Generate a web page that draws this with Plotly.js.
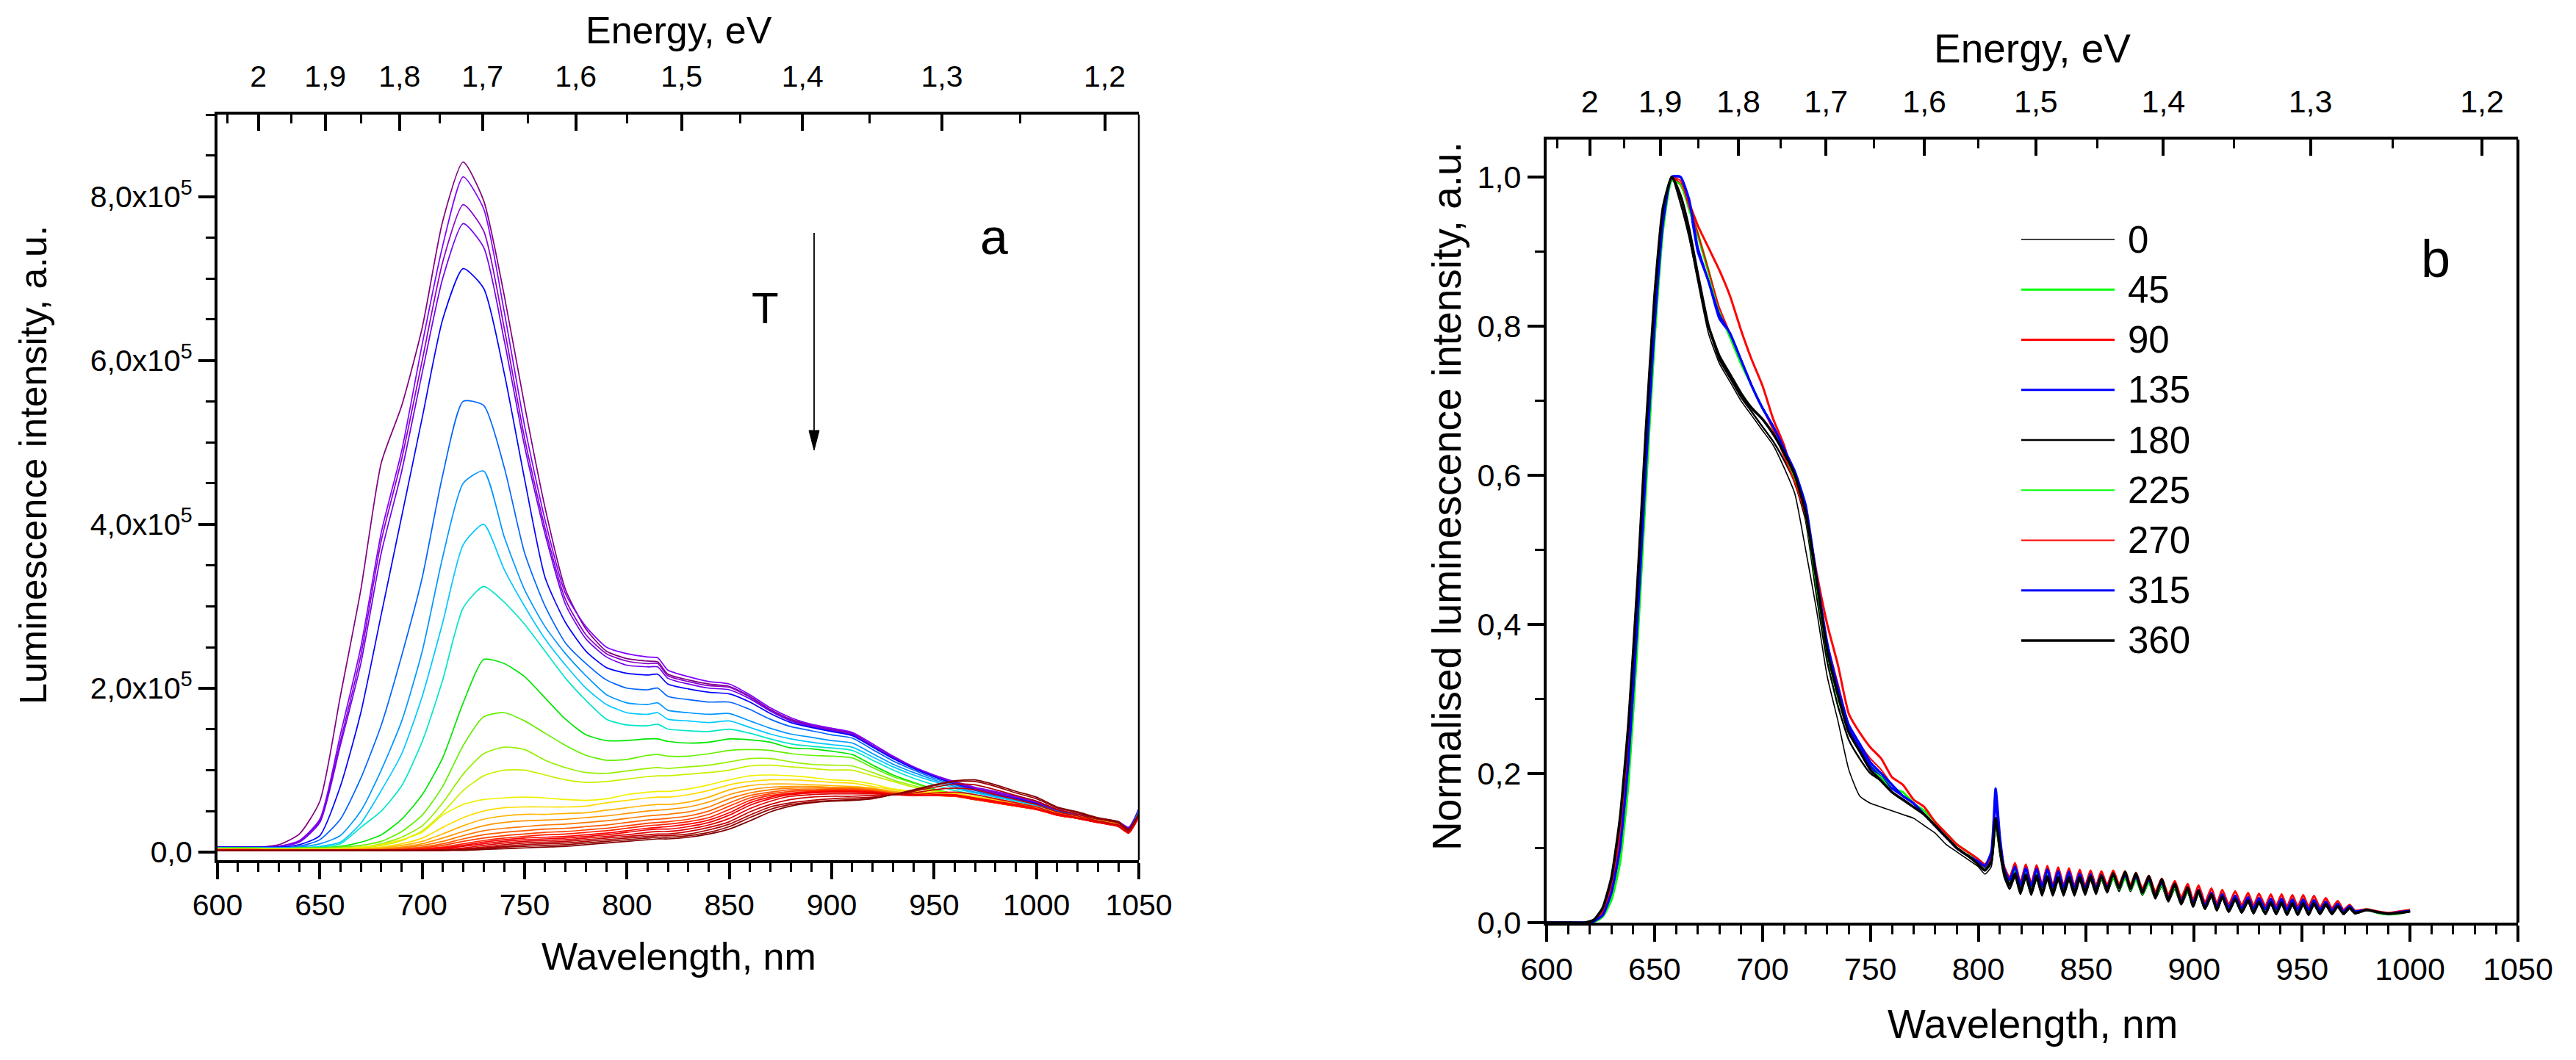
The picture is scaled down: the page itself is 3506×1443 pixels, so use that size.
<!DOCTYPE html>
<html><head><meta charset="utf-8">
<script src="https://cdn.plot.ly/plotly-3.0.1.min.js"></script>
<style>html,body{margin:0;padding:0;background:#fff}#chart{width:3506px;height:1443px}</style>
</head><body><div id="chart"></div>
<script>
const FONT = 'Liberation Sans, Arial, Helvetica, sans-serif';
const W = 3506, H = 1443;

// ---------------- Panel a : luminescence spectra (values in 10^5 a.u.) ----------------
const wavelengthA = [600,620,630,640,650,660,670,680,690,700,710,720,730,740,750,760,770,780,790,800,810,815,820,830,840,850,860,870,880,890,900,910,920,930,940,950,960,970,980,990,1000,1010,1020,1030,1040,1045,1050];
const c1 = [.06,.06,.09,.22,.62,1.9,3.2,4.75,5.45,6.4,7.7,8.42,7.95,6.8,5.45,4.2,3.2,2.72,2.45,2.36,2.33,2.32,2.17,2.1,2.05,2.02,1.9,1.74,1.62,1.55,1.5,1.45,1.3,1.15,1.02,.92,.84,.78,.73,.68,.62,.52,.46,.41,.37,.3,.52];
const c2 = [.06,.06,.07,.14,.4,1.43,2.5,3.9,4.9,6.2,7.4,8.24,7.85,6.6,5.2,4.05,3.15,2.75,2.5,2.42,2.38,2.37,2.22,2.14,2.08,2.05,1.92,1.76,1.64,1.56,1.51,1.46,1.32,1.17,1.04,.94,.86,.79,.74,.68,.62,.52,.46,.41,.37,.3,.53];
const c3 = [.06,.06,.07,.13,.38,1.35,2.4,3.8,4.8,6.0,7.2,7.9,7.58,6.4,5.05,3.95,3.08,2.65,2.42,2.33,2.3,2.3,2.15,2.08,2.03,2.01,1.89,1.73,1.61,1.54,1.49,1.44,1.3,1.16,1.03,.93,.85,.78,.72,.67,.61,.51,.45,.4,.36,.29,.51];
const c4 = [.06,.06,.07,.12,.36,1.3,2.3,3.65,4.65,5.85,7.0,7.67,7.38,6.25,4.95,3.88,3.02,2.6,2.38,2.28,2.26,2.26,2.12,2.05,2.0,1.98,1.87,1.72,1.6,1.53,1.48,1.43,1.29,1.15,1.03,.93,.84,.77,.71,.66,.6,.5,.44,.39,.35,.28,.5];
const c5 = [.06,.06,.06,.09,.2,.8,1.7,2.9,4.1,5.3,6.5,7.12,6.88,5.85,4.55,3.35,2.8,2.45,2.25,2.18,2.16,2.17,2.05,1.99,1.95,1.93,1.83,1.69,1.58,1.52,1.47,1.42,1.28,1.14,1.02,.92,.83,.76,.7,.65,.59,.5,.44,.39,.36,.28,.52];
const c6 = [.05,.05,.05,.07,.15,.4,.9,1.55,2.4,3.35,4.6,5.5,5.45,4.7,3.65,3.0,2.55,2.3,2.1,2.0,1.98,2.0,1.9,1.86,1.83,1.83,1.74,1.62,1.53,1.48,1.43,1.39,1.25,1.11,1.0,.9,.82,.75,.69,.64,.58,.5,.44,.39,.35,.27,.51];
const c7 = [.05,.05,.05,.06,.1,.2,.5,1.0,1.6,2.45,3.6,4.5,4.65,3.85,3.2,2.75,2.42,2.15,1.92,1.82,1.8,1.82,1.73,1.7,1.68,1.69,1.6,1.51,1.44,1.4,1.36,1.33,1.2,1.07,.97,.88,.8,.73,.68,.63,.57,.49,.44,.39,.35,.27,.5];
const c8 = [.05,.05,.05,.05,.07,.12,.35,.75,1.2,1.9,2.8,3.75,4.0,3.45,3.0,2.6,2.28,2.0,1.8,1.7,1.68,1.7,1.62,1.6,1.58,1.6,1.52,1.44,1.38,1.34,1.31,1.28,1.16,1.04,.94,.86,.78,.72,.67,.62,.56,.48,.43,.38,.34,.26,.49];
const c9 = [.05,.05,.04,.05,.06,.1,.3,.5,.81,1.35,2.1,2.98,3.24,3.05,2.78,2.45,2.12,1.85,1.62,1.55,1.54,1.56,1.5,1.48,1.47,1.5,1.45,1.38,1.32,1.29,1.27,1.24,1.12,1.0,.9,.82,.75,.7,.65,.6,.55,.47,.43,.38,.34,.26,.48];
const c10 = [.05,.05,.04,.05,.05,.07,.12,.21,.4,.7,1.15,1.82,2.35,2.3,2.14,1.88,1.62,1.43,1.36,1.36,1.38,1.38,1.35,1.33,1.34,1.38,1.37,1.34,1.27,1.26,1.23,1.19,1.06,.94,.85,.77,.71,.66,.62,.57,.54,.47,.43,.38,.34,.26,.48];
const c11 = [.04,.04,.04,.05,.05,.06,.08,.13,.25,.45,.8,1.3,1.65,1.7,1.6,1.45,1.3,1.18,1.12,1.13,1.18,1.19,1.17,1.17,1.2,1.24,1.25,1.24,1.2,1.18,1.17,1.15,1.03,.92,.84,.76,.71,.66,.62,.57,.54,.47,.43,.38,.34,.26,.47];
const c12 = [.04,.04,.04,.04,.04,.05,.06,.1,.18,.32,.6,.95,1.2,1.28,1.25,1.12,1.03,.97,.96,.99,1.02,1.03,1.02,1.04,1.06,1.1,1.14,1.14,1.1,1.07,1.06,1.05,.97,.88,.81,.75,.7,.65,.61,.57,.53,.47,.42,.37,.34,.26,.47];
const c13 = [.04,.04,.04,.04,.04,.04,.05,.08,.14,.26,.48,.75,.93,1.0,1.0,.94,.88,.85,.86,.89,.92,.93,.93,.95,.97,1.0,1.05,1.06,1.04,1.02,1.0,1.0,.93,.86,.79,.74,.7,.65,.61,.57,.53,.46,.42,.37,.33,.25,.46];
const c14 = [.04,.03,.03,.03,.03,.04,.06,.09,.15,.24,.45,.58,.64,.66,.67,.66,.64,.63,.65,.70,.73,.74,.74,.77,.82,.88,.93,.94,.93,.91,.88,.87,.83,.77,.74,.73,.72,.68,.64,.60,.55,.48,.44,.39,.35,.27,.47];
const c15 = [.04,.03,.03,.03,.03,.03,.04,.06,.10,.17,.30,.42,.50,.54,.55,.55,.55,.56,.60,.63,.66,.67,.67,.70,.75,.82,.86,.88,.88,.87,.85,.84,.80,.76,.73,.72,.71,.67,.63,.59,.55,.48,.43,.38,.34,.26,.46];
const c16 = [.03,.03,.03,.03,.03,.03,.04,.05,.08,.13,.22,.32,.40,.44,.46,.46,.47,.48,.51,.54,.57,.58,.58,.61,.67,.76,.81,.83,.83,.82,.81,.80,.78,.74,.72,.71,.70,.66,.62,.58,.54,.47,.43,.38,.33,.26,.46];
const c17 = [.03,.03,.03,.03,.02,.03,.03,.04,.06,.10,.17,.25,.32,.36,.38,.39,.40,.42,.44,.47,.50,.51,.52,.55,.61,.70,.76,.79,.80,.80,.79,.79,.77,.73,.71,.70,.69,.65,.61,.57,.53,.46,.42,.37,.33,.25,.45];
const c18 = [.03,.03,.02,.02,.02,.02,.03,.03,.05,.08,.13,.20,.26,.29,.31,.33,.34,.36,.38,.41,.44,.45,.46,.49,.55,.65,.72,.76,.78,.78,.78,.78,.76,.72,.70,.69,.68,.64,.60,.56,.52,.46,.42,.37,.33,.25,.45];
const c19 = [.03,.03,.02,.02,.02,.02,.02,.03,.04,.06,.10,.16,.21,.24,.26,.28,.29,.31,.33,.36,.39,.40,.41,.44,.50,.60,.69,.73,.76,.76,.77,.77,.75,.72,.70,.69,.68,.64,.60,.56,.52,.45,.41,.36,.32,.24,.44];
const c20 = [.03,.02,.02,.02,.02,.02,.02,.02,.03,.05,.08,.13,.17,.20,.22,.24,.25,.27,.29,.32,.35,.36,.37,.40,.46,.56,.66,.71,.74,.75,.76,.76,.74,.71,.69,.69,.68,.64,.60,.56,.52,.45,.41,.36,.32,.24,.44];
const c21 = [.03,.02,.02,.02,.02,.02,.02,.02,.03,.04,.06,.10,.14,.17,.19,.21,.22,.24,.26,.29,.32,.33,.34,.37,.42,.52,.63,.69,.72,.74,.75,.75,.74,.71,.69,.69,.68,.64,.60,.56,.52,.45,.41,.36,.32,.24,.44];
const c22 = [.02,.02,.02,.02,.02,.02,.02,.02,.02,.03,.05,.08,.12,.15,.17,.18,.19,.21,.23,.26,.29,.30,.31,.34,.39,.48,.60,.67,.71,.73,.74,.74,.73,.70,.69,.69,.69,.65,.61,.57,.52,.45,.41,.36,.31,.23,.43];
const c23 = [.02,.02,.02,.02,.02,.02,.02,.02,.02,.03,.04,.07,.10,.13,.15,.16,.17,.19,.21,.24,.27,.28,.28,.31,.36,.45,.57,.65,.70,.72,.73,.73,.72,.70,.69,.70,.70,.66,.62,.58,.53,.46,.41,.36,.31,.23,.43];
const c24 = [.02,.02,.02,.02,.02,.02,.02,.02,.02,.02,.03,.05,.08,.11,.13,.14,.15,.17,.19,.21,.24,.25,.25,.28,.33,.41,.53,.62,.68,.70,.71,.71,.71,.70,.70,.72,.73,.70,.65,.60,.55,.47,.42,.37,.32,.24,.44];
const c25 = [.02,.02,.02,.02,.02,.02,.02,.02,.02,.02,.03,.04,.06,.09,.11,.12,.13,.15,.17,.19,.21,.22,.22,.25,.30,.37,.49,.58,.64,.67,.68,.68,.69,.70,.72,.76,.78,.76,.70,.64,.58,.49,.44,.38,.33,.25,.45];
const c26 = [.02,.02,.02,.02,.02,.02,.02,.02,.02,.02,.02,.03,.05,.07,.09,.10,.11,.13,.15,.17,.19,.20,.20,.22,.27,.34,.45,.55,.60,.63,.65,.66,.67,.70,.74,.79,.83,.82,.76,.69,.62,.52,.46,.40,.35,.26,.46];
const c27 = [.02,.02,.02,.02,.02,.02,.02,.02,.02,.02,.02,.03,.04,.06,.07,.08,.09,.11,.13,.15,.17,.18,.18,.20,.24,.31,.42,.52,.58,.61,.63,.64,.66,.70,.75,.81,.86,.86,.80,.72,.65,.54,.48,.41,.36,.27,.47];
const c28 = [.02,.02,.02,.02,.02,.02,.02,.02,.02,.02,.02,.02,.03,.04,.05,.06,.07,.09,.11,.13,.15,.16,.16,.18,.22,.28,.38,.49,.56,.60,.62,.63,.65,.70,.76,.82,.87,.88,.82,.74,.67,.55,.49,.42,.37,.28,.48];
const curvesA = [c1,c2,c3,c4,c5,c6,c7,c8,c9,c10,c11,c12,c13,c14,c15,c16,c17,c18,c19,c20,c21,c22,c23,c24,c25,c26,c27,c28];
const colorsA = ['#800080','#8000ff','#8a00c8','#7000f0','#0000ff','#0064ff','#0096ff','#00c8ff','#00e6c8','#00e600','#64f000','#96f000','#c8f000','#f0f000','#ffdc00','#ffb400','#ff9600','#ff7800','#ff5a00','#ff3c00','#ff1e00','#ff0000','#f00000','#e00000','#c80000','#b00000','#980000','#800000'];
const yTickValsA = [0,2,4,6,8];
const yTickTextA = ['0,0','2,0x10<sup>5</sup>','4,0x10<sup>5</sup>','6,0x10<sup>5</sup>','8,0x10<sup>5</sup>'];

// ---------------- Energy (top) axis ----------------
const energyMajor = [2,1.9,1.8,1.7,1.6,1.5,1.4,1.3,1.2];
const energyLabels = ['2','1,9','1,8','1,7','1,6','1,5','1,4','1,3','1,2'];
const energyMinor = [2.05,1.95,1.85,1.75,1.65,1.55,1.45,1.35,1.25];
const hc = 1240; // eV*nm

// ---------------- Panel b : normalised spectra ----------------
const wavelengthB = [600,610,618,622,626,630,634,638,642,646,650,654,658,
 662,666,670,675,680,685,690,695,700,705,710,715,720,725,730,735,740,745,750,755,760,765,770,775,780,785,790,795,800,803,806,808,810,812,
 814.5,817,819.5,822,824.5,827,829.5,832,834.5,837,839.5,842,844.5,847,849.5,852,854.5,857,859.7,862.5,865.2,868,870.5,873,876,879,882,885,888,891,894,897,899.5,902,905,908,910.5,913,916,919,922,925,927.5,930,933,935.5,938,940.5,943,945.5,948,950.5,953,955.5,958.3,961,963.8,966.5,969.2,972,974.5,
 980,985,990,995,1000];
const riseBlack = [0,0,0,.004,.02,.06,.14,.27,.45,.66,.84,.96,1.0];
const riseRed   = [0,0,0,.003,.015,.05,.12,.25,.43,.64,.82,.95,1.0];
const riseBlue  = [0,0,0,.002,.01,.04,.1,.22,.4,.61,.8,.94,1.0];
const riseGreen = [0,0,0,.001,.008,.03,.08,.19,.37,.58,.78,.93,.995];
const post0   = [.965,.92,.86,.79,.75,.725,.7,.68,.66,.64,.61,.575,.5,.42,.33,.27,.205,.17,.16,.155,.15,.145,.14,.13,.12,.105,.095,.085,.075,.065,.075,.13,.09,.06];
const post45  = [.99,.96,.925,.875,.82,.785,.75,.72,.69,.665,.635,.6,.55,.46,.37,.31,.26,.235,.21,.2,.18,.175,.16,.15,.135,.12,.105,.095,.08,.075,.085,.14,.1,.07];
const post90  = [.99,.965,.935,.905,.875,.84,.795,.755,.72,.675,.64,.59,.55,.47,.4,.345,.28,.255,.235,.22,.195,.185,.165,.155,.135,.12,.105,.095,.085,.078,.09,.14,.105,.075];
const post135 = [1.0,.965,.9,.86,.81,.79,.755,.72,.69,.665,.635,.6,.555,.46,.37,.31,.26,.235,.21,.195,.18,.17,.16,.145,.13,.115,.1,.09,.08,.074,.09,.16,.11,.07];
const post180 = [.965,.92,.865,.8,.755,.73,.705,.685,.665,.645,.62,.59,.54,.44,.35,.29,.245,.22,.2,.19,.175,.165,.155,.145,.13,.115,.1,.09,.078,.07,.08,.135,.095,.065];
const post225 = [.99,.955,.92,.87,.82,.785,.75,.72,.69,.665,.63,.595,.545,.45,.36,.3,.255,.23,.205,.195,.175,.165,.155,.145,.13,.115,.1,.09,.08,.072,.083,.13,.095,.068];
const post270 = [.995,.96,.925,.875,.825,.79,.755,.72,.69,.66,.625,.59,.545,.46,.375,.32,.265,.24,.22,.205,.185,.17,.16,.145,.13,.115,.1,.09,.08,.075,.088,.135,.1,.072];
const post315 = [1.0,.97,.905,.86,.815,.79,.755,.72,.69,.665,.635,.605,.56,.465,.375,.315,.265,.24,.215,.2,.185,.17,.16,.145,.13,.115,.1,.09,.082,.076,.095,.18,.115,.072];
const post360 = [.975,.93,.87,.8,.76,.735,.71,.69,.675,.655,.63,.6,.55,.46,.365,.305,.255,.23,.205,.19,.175,.165,.155,.145,.13,.115,.1,.09,.078,.07,.082,.14,.1,.068];
const rippleRed   = [.060,.080,.053,.078,.052,.077,.051,.076,.050,.074,.050,.073,.049,.071,.049,.070,.049,.069,.050,.070,.051,.069,.050,.067,.045,.063,.041,.059,.037,.056,.033,.052,.030,.050,.027,.046,.025,.044,.024,.042,.023,.040,.022,.039,.022,.038,.022,.038,.021,.037,.021,.037,.021,.036,.020,.033,.019,.029,.017,.024,.016];
const rippleGreen = [.054,.070,.046,.068,.045,.067,.044,.066,.043,.064,.043,.063,.042,.061,.042,.060,.042,.059,.043,.060,.044,.060,.043,.058,.038,.054,.034,.050,.030,.046,.026,.042,.023,.040,.021,.037,.019,.035,.018,.033,.017,.031,.016,.030,.016,.029,.016,.029,.015,.028,.015,.028,.015,.028,.015,.026,.015,.023,.014,.020,.014];
const rippleBlue  = [.057,.075,.050,.073,.049,.072,.048,.071,.047,.069,.047,.068,.046,.066,.046,.065,.046,.064,.047,.065,.047,.064,.046,.062,.041,.058,.037,.054,.033,.050,.029,.046,.026,.044,.023,.040,.021,.038,.020,.036,.019,.034,.018,.033,.018,.032,.018,.032,.017,.031,.017,.031,.017,.030,.017,.028,.016,.025,.015,.022,.015];
const rippleBlack = [.045,.062,.038,.060,.037,.059,.036,.058,.036,.057,.036,.057,.036,.057,.037,.058,.038,.059,.040,.061,.042,.062,.042,.060,.037,.055,.032,.050,.028,.046,.024,.042,.021,.040,.018,.035,.016,.033,.014,.030,.013,.028,.012,.026,.011,.025,.011,.025,.010,.024,.010,.024,.010,.024,.011,.023,.011,.021,.011,.019,.012];
const rippleBlack360 = [.050,.066,.042,.064,.041,.063,.040,.062,.040,.061,.040,.061,.040,.061,.041,.062,.042,.063,.044,.066,.046,.068,.045,.066,.040,.062,.035,.058,.030,.052,.026,.047,.022,.043,.019,.038,.017,.035,.015,.032,.014,.030,.013,.028,.012,.027,.012,.027,.011,.026,.011,.026,.011,.026,.012,.025,.012,.022,.012,.020,.013];
const tailRed   = [.018,.015,.013,.015,.017];
const tailGreen = [.018,.013,.011,.012,.016];
const tailBlue  = [.017,.014,.012,.014,.016];
const tailBlack = [.017,.014,.012,.013,.015];

const b0   = [...riseBlack, ...post0,   ...rippleBlack,    ...tailBlack];
const b45  = [...riseGreen, ...post45,  ...rippleGreen,    ...tailGreen];
const b90  = [...riseRed,   ...post90,  ...rippleRed,      ...tailRed];
const b135 = [...riseBlue,  ...post135, ...rippleBlue,     ...tailBlue];
const b180 = [...riseBlack, ...post180, ...rippleBlack,    ...tailBlack];
const b225 = [...riseGreen, ...post225, ...rippleGreen,    ...tailGreen];
const b270 = [...riseRed,   ...post270, ...rippleRed,      ...tailRed];
const b315 = [...riseBlue,  ...post315, ...rippleBlue,     ...tailBlue];
const b360 = [...riseBlack, ...post360, ...rippleBlack360, ...tailBlack];
const curvesB = [b0,b45,b90,b135,b180,b225,b270,b315,b360];
const anglesB = ['0','45','90','135','180','225','270','315','360'];
const colorsB = ['#000000','#00ff00','#ff0000','#0000ff','#000000','#00ff00','#ff0000','#0000ff','#000000'];
const widthsB = [1.6,3,3,3,2.4,2,2,3.2,3.6];
const yTickValsB = [0,0.2,0.4,0.6,0.8,1.0];
const yTickTextB = ['0,0','0,2','0,4','0,6','0,8','1,0'];

// ---------------- traces ----------------
const traces = [];
curvesA.forEach((ys,i)=>traces.push({type:'scatter',mode:'lines',x:wavelengthA,y:ys,xaxis:'x',yaxis:'y',
  line:{color:colorsA[i],width:1.7,shape:'spline',smoothing:0.6},showlegend:false,hoverinfo:'skip'}));
curvesB.forEach((ys,i)=>traces.push({type:'scatter',mode:'lines',x:wavelengthB,y:ys,xaxis:'x2',yaxis:'y2',
  line:{color:colorsB[i],width:widthsB[i],shape:'spline',smoothing:0.5},showlegend:false,hoverinfo:'skip'}));
traces.push({type:'scatter',mode:'lines',x:[600,1050],y:[null,null],xaxis:'x3',yaxis:'y',showlegend:false,hoverinfo:'skip'});
traces.push({type:'scatter',mode:'lines',x:[600,1050],y:[null,null],xaxis:'x4',yaxis:'y2',showlegend:false,hoverinfo:'skip'});

// ---------------- layout helpers ----------------
const px = v => v / W, py = v => 1 - v / H;
const tickFont = s => ({family:FONT,size:s,color:'#000'});
const base = {showline:true,linecolor:'#000',linewidth:4,ticks:'outside',ticklen:22,tickwidth:4,tickcolor:'#000',
  showgrid:false,zeroline:false,fixedrange:true};
const energyVals = energyMajor.map(e=>hc/e);
const energyMinorVals = energyMinor.map(e=>hc/e);

const domXA = [px(296),px(1550)], domYA = [py(1171),py(156)];
const domXB = [px(2105),px(3427)], domYB = [py(1256),py(190)];

const layout = {
  width:W,height:H,margin:{l:0,r:0,t:0,b:0},paper_bgcolor:'#fff',plot_bgcolor:'rgba(0,0,0,0)',showlegend:false,
  font:{family:FONT,color:'#000'},
  xaxis:{...base,domain:domXA,anchor:'y',range:[600,1050],tickmode:'linear',tick0:600,dtick:50,tickfont:tickFont(41),
    minor:{tickmode:'linear',tick0:600,dtick:10,ticks:'outside',ticklen:12,tickwidth:3,tickcolor:'#000'}},
  yaxis:{...base,domain:domYA,anchor:'x',range:[-0.1,9.0],tickmode:'array',tickvals:yTickValsA,ticktext:yTickTextA,tickfont:tickFont(41),
    minor:{tickmode:'linear',tick0:0,dtick:0.5,ticks:'outside',ticklen:12,tickwidth:3,tickcolor:'#000'}},
  xaxis3:{...base,overlaying:'x',side:'top',anchor:'y',range:[600,1050],ticks:'inside',tickmode:'array',tickvals:energyVals,ticktext:energyLabels,tickfont:tickFont(41),ticklabelstandoff:18,
    minor:{tickmode:'array',tickvals:energyMinorVals,ticks:'inside',ticklen:12,tickwidth:3,tickcolor:'#000'}},
  xaxis2:{...base,domain:domXB,anchor:'y2',range:[600,1050],tickmode:'linear',tick0:600,dtick:50,tickfont:tickFont(43),
    minor:{tickmode:'linear',tick0:600,dtick:10,ticks:'outside',ticklen:12,tickwidth:3,tickcolor:'#000'}},
  yaxis2:{...base,domain:domYB,anchor:'x2',range:[0,1.05],tickmode:'array',tickvals:yTickValsB,ticktext:yTickTextB,tickfont:tickFont(43),
    minor:{tickmode:'linear',tick0:0,dtick:0.1,ticks:'outside',ticklen:12,tickwidth:3,tickcolor:'#000'}},
  xaxis4:{...base,overlaying:'x2',side:'top',anchor:'y2',range:[600,1050],ticks:'inside',tickmode:'array',tickvals:energyVals,ticktext:energyLabels,tickfont:tickFont(43),ticklabelstandoff:16,
    minor:{tickmode:'array',tickvals:energyMinorVals,ticks:'inside',ticklen:12,tickwidth:3,tickcolor:'#000'}},
  shapes:[
    {type:'line',xref:'paper',yref:'paper',x0:domXA[1],x1:domXA[1],y0:domYA[0],y1:domYA[1],line:{color:'#000',width:2.5}},
    {type:'line',xref:'paper',yref:'paper',x0:domXB[1],x1:domXB[1],y0:domYB[0],y1:domYB[1],line:{color:'#000',width:4}},
    {type:'line',xref:'paper',yref:'paper',x0:px(1108),x1:px(1108),y0:py(317),y1:py(592),line:{color:'#000',width:1.8}},
    {type:'path',xref:'paper',yref:'paper',path:`M ${px(1101)} ${py(586)} L ${px(1115)} ${py(586)} L ${px(1108)} ${py(613)} Z`,fillcolor:'#000',line:{color:'#000',width:1}}
  ],
  annotations:[
    {text:'Energy, eV',xref:'paper',yref:'paper',x:px(924),y:py(41),xanchor:'center',yanchor:'middle',showarrow:false,font:{family:FONT,size:52,color:'#000'}},
    {text:'Wavelength, nm',xref:'paper',yref:'paper',x:px(924),y:py(1302),xanchor:'center',yanchor:'middle',showarrow:false,font:{family:FONT,size:52,color:'#000'}},
    {text:'Luminescence intensity, a.u.',xref:'paper',yref:'paper',x:px(45),y:py(633),xanchor:'center',yanchor:'middle',textangle:-90,showarrow:false,font:{family:FONT,size:52,color:'#000'}},
    {text:'Energy, eV',xref:'paper',yref:'paper',x:px(2766),y:py(66),xanchor:'center',yanchor:'middle',showarrow:false,font:{family:FONT,size:55,color:'#000'}},
    {text:'Wavelength, nm',xref:'paper',yref:'paper',x:px(2766),y:py(1394),xanchor:'center',yanchor:'middle',showarrow:false,font:{family:FONT,size:55,color:'#000'}},
    {text:'Normalised luminescence intensity, a.u.',xref:'paper',yref:'paper',x:px(1969),y:py(676),xanchor:'center',yanchor:'middle',textangle:-90,showarrow:false,font:{family:FONT,size:55,color:'#000'}},
    {text:'a',xref:'paper',yref:'paper',x:px(1353),y:py(322),xanchor:'center',yanchor:'middle',showarrow:false,font:{family:FONT,size:68,color:'#000'}},
    {text:'T',xref:'paper',yref:'paper',x:px(1041),y:py(419),xanchor:'center',yanchor:'middle',showarrow:false,font:{family:FONT,size:60,color:'#000'}},
    {text:'b',xref:'paper',yref:'paper',x:px(3315),y:py(352),xanchor:'center',yanchor:'middle',showarrow:false,font:{family:FONT,size:72,color:'#000'}}
  ]
};
anglesB.forEach((lab,i)=>{
  const yy = 326 + 68.25*i;
  layout.shapes.push({type:'line',xref:'paper',yref:'paper',x0:px(2751),x1:px(2878),y0:py(yy),y1:py(yy),line:{color:colorsB[i],width:widthsB[i]}});
  layout.annotations.push({text:lab,xref:'paper',yref:'paper',x:px(2894),y:py(yy),xanchor:'left',yanchor:'middle',showarrow:false,font:{family:FONT,size:51,color:'#000'}});
});

Plotly.newPlot('chart',traces,layout,{staticPlot:true,displayModeBar:false});
</script></body></html>
